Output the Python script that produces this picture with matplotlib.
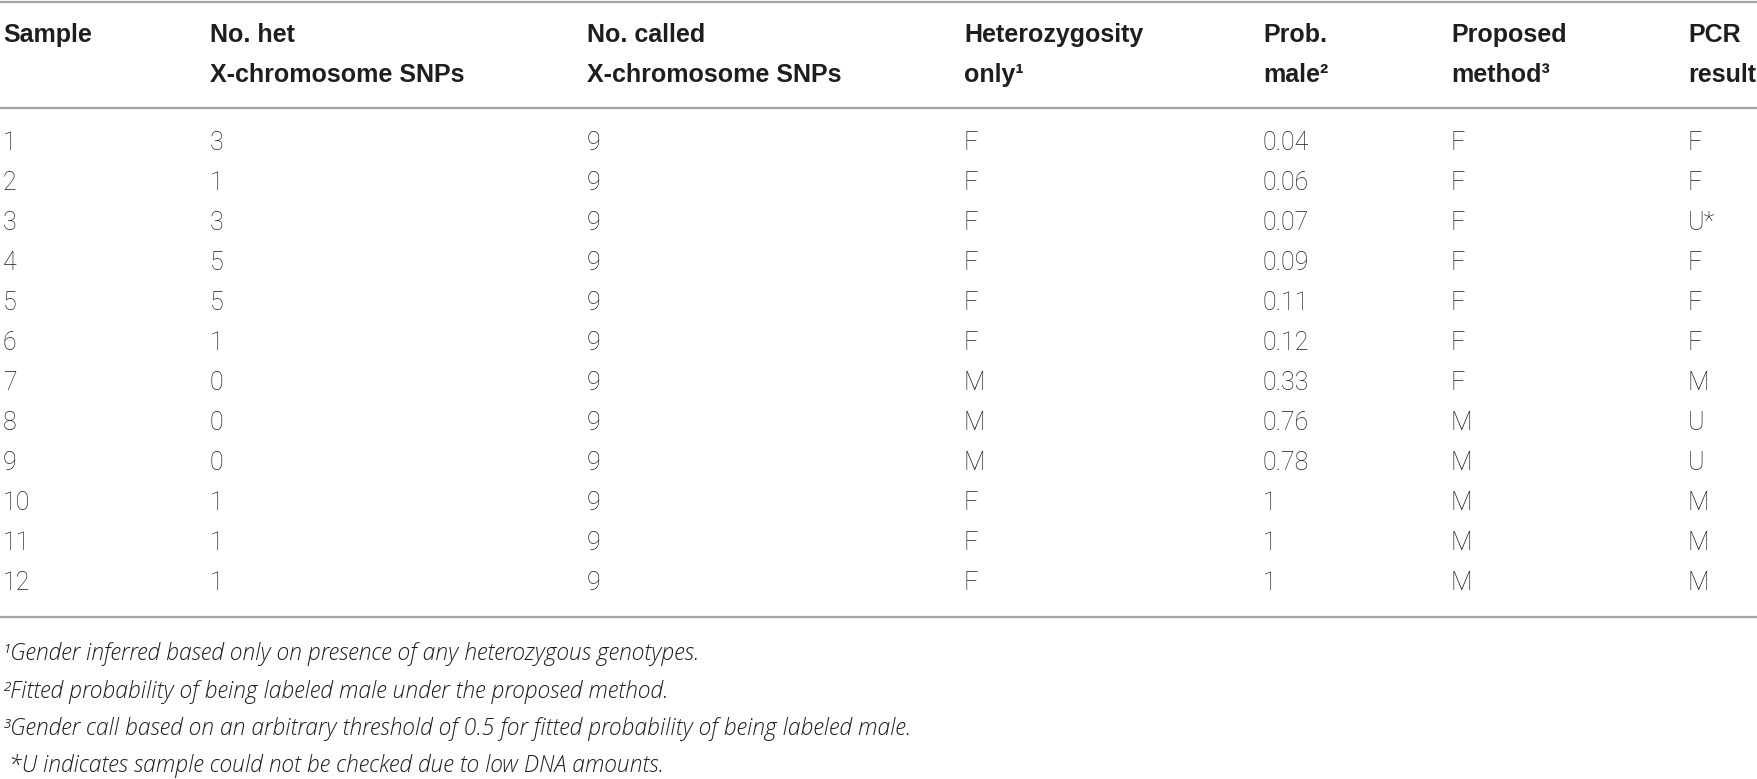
import matplotlib
matplotlib.use("Agg")
import matplotlib.pyplot as plt

# ---------------- data ----------------
headers_line1 = ["Sample", "No. het", "No. called", "Heterozygosity", "Prob.", "Proposed", "PCR"]
headers_line2 = ["", "X-chromosome SNPs", "X-chromosome SNPs", "only\u00b9", "male\u00b2", "method\u00b3", "result"]

samples = ["1", "2", "3", "4", "5", "6", "7", "8", "9", "10", "11", "12"]
het_snps = ["3", "1", "3", "5", "5", "1", "0", "0", "0", "1", "1", "1"]
called_snps = ["9", "9", "9", "9", "9", "9", "9", "9", "9", "9", "9", "9"]
het_only = ["F", "F", "F", "F", "F", "F", "M", "M", "M", "F", "F", "F"]
prob_male = ["0.04", "0.06", "0.07", "0.09", "0.11", "0.12", "0.33", "0.76", "0.78", "1", "1", "1"]
proposed = ["F", "F", "F", "F", "F", "F", "F", "M", "M", "M", "M", "M"]
pcr_result = ["F", "F", "U*", "F", "F", "F", "M", "U", "U", "M", "M", "M"]

footnotes = [
    "\u00b9Gender inferred based only on presence of any heterozygous genotypes.",
    "\u00b2Fitted probability of being labeled male under the proposed method.",
    "\u00b3Gender call based on an arbitrary threshold of 0.5 for fitted probability of being labeled male.",
    " *U indicates sample could not be checked due to low DNA amounts.",
]

columns = [samples, het_snps, called_snps, het_only, prob_male, proposed, pcr_result]

# ---------------- layout ----------------
W, H = 1758, 779
col_x = [3, 210, 587, 964, 1263, 1451, 1688]
head_base = [42, 82]
row_base0, row_step = 150, 40
foot_base0, foot_step = 660, 37.5
rule_y = [2, 108, 617]

text_color = "#1e1e1e"
rule_color = "#a2a2a2"

head_font = dict(family=["Liberation Sans", "DejaVu Sans"], fontweight="bold", fontsize=18)
data_font = dict(family=["Roboto", "DejaVu Sans"], fontweight="light", fontsize=18)
foot_font = dict(family=["Open Sans", "DejaVu Sans"], fontweight="light", fontstyle="italic", fontsize=16.5)

fig = plt.figure(figsize=(W / 100, H / 100), dpi=100)
ax = fig.add_axes([0, 0, 1, 1])
ax.set_xlim(0, W)
ax.set_ylim(H, 0)
ax.axis("off")

for y in rule_y:
    ax.axhline(y, color=rule_color, lw=1.6)

for x, h1, h2 in zip(col_x, headers_line1, headers_line2):
    ax.text(x, head_base[0], h1, ha="left", va="baseline", color=text_color, **head_font)
    if h2:
        ax.text(x, head_base[1], h2, ha="left", va="baseline", color=text_color, **head_font)

for x, col in zip(col_x, columns):
    for i, val in enumerate(col):
        ax.text(x, row_base0 + i * row_step, val, ha="left", va="baseline",
                color=text_color, **data_font)

for i, note in enumerate(footnotes):
    ax.text(3, foot_base0 + i * foot_step, note, ha="left", va="baseline",
            color=text_color, **foot_font)

fig.savefig("out.png", dpi=100, facecolor="white")
